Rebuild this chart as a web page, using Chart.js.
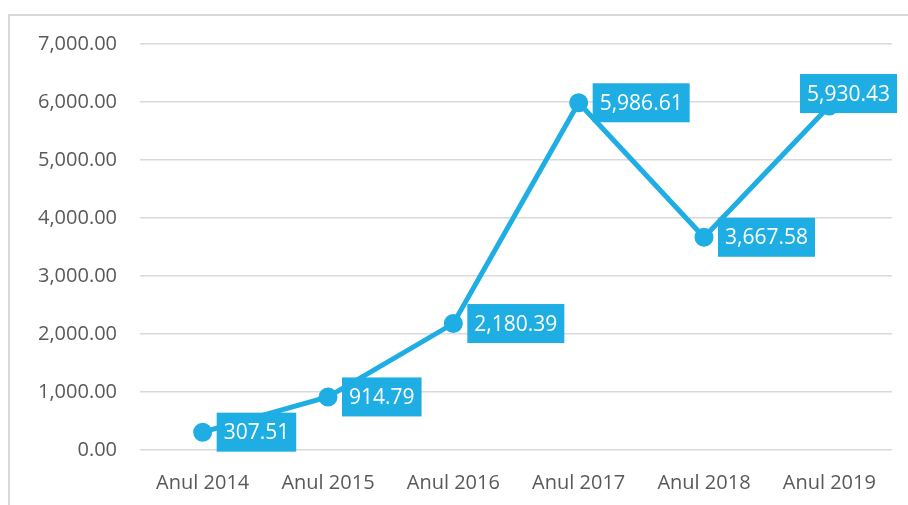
<!DOCTYPE html>
<html>
<head>
<meta charset="utf-8">
<script src="https://cdn.jsdelivr.net/npm/chart.js@4"></script>
<style>
  html, body { margin: 0; padding: 0; background: #fff; }
  #wrap { position: relative; width: 908px; height: 505px; }
  #frame { position: absolute; left: 8px; top: 14px; right: 0; bottom: 0;
           border-left: 2px solid #d9d9d9; border-top: 2px solid #d9d9d9; }
  canvas { position: absolute; left: 0; top: 0; }
</style>
</head>
<body>
<div id="wrap">
  <div id="frame"></div>
  <canvas id="chart" width="908" height="505"></canvas>
</div>
<script>
// ===== data =====
const years = ['Anul 2014', 'Anul 2015', 'Anul 2016', 'Anul 2017', 'Anul 2018', 'Anul 2019'];
const values = [307.51, 914.79, 2180.39, 5986.61, 3667.58, 5930.43];
const BLUE = '#1eaee4';

const fmt = v => v.toLocaleString('en-US', { minimumFractionDigits: 2, maximumFractionDigits: 2 });

// ===== value boxes beside each point =====
const boxLabels = {
  id: 'boxLabels',
  afterDatasetsDraw(chart) {
    const ctx = chart.ctx;
    const meta = chart.getDatasetMeta(0);
    ctx.save();
    ctx.font = '21px "Open Sans", sans-serif';
    ctx.textBaseline = 'middle';
    meta.data.forEach((pt, i) => {
      const txt = fmt(values[i]);
      const w = ctx.measureText(txt).width + 14;
      const h = 39;
      let left = pt.x + 14;
      let top = pt.y - h / 2;
      if (left + w > 897) {          // no room on the right: push inside, above
        left = 897 - w;
        top = pt.y - 32;
      }
      ctx.fillStyle = BLUE;
      ctx.fillRect(left, top, w, h);
      ctx.fillStyle = '#fff';
      ctx.textAlign = 'left';
      ctx.fillText(txt, left + 7, top + h / 2 + 1);
    });
    ctx.restore();
  }
};

new Chart(document.getElementById('chart'), {
  type: 'line',
  data: {
    labels: years,
    datasets: [{
      data: values,
      borderColor: BLUE,
      backgroundColor: BLUE,
      borderWidth: 5,
      pointRadius: 7,
      pointHoverRadius: 7,
      tension: 0
    }]
  },
  options: {
    responsive: false,
    animation: false,
    layout: { padding: { left: 0, right: 16, top: 44, bottom: 0 } },
    plugins: { legend: { display: false }, tooltip: { enabled: false } },
    scales: {
      x: {
        offset: true,
        grid: { display: false, drawTicks: false },
        border: { display: false },
        ticks: { color: '#595959', padding: 21, font: { family: '"Open Sans", sans-serif', size: 20 } },
        afterFit: s => { s.height = 55; }
      },
      y: {
        min: 0,
        max: 7000,
        ticks: {
          stepSize: 1000,
          color: '#595959',
          padding: 23,
          font: { family: '"Open Sans", sans-serif', size: 20 },
          callback: v => fmt(v)
        },
        grid: { color: '#d9d9d9', lineWidth: 1.5, drawTicks: false },
        border: { display: false },
        afterFit: s => { s.width = 140; }
      }
    }
  },
  plugins: [boxLabels]
});
</script>
</body>
</html>
